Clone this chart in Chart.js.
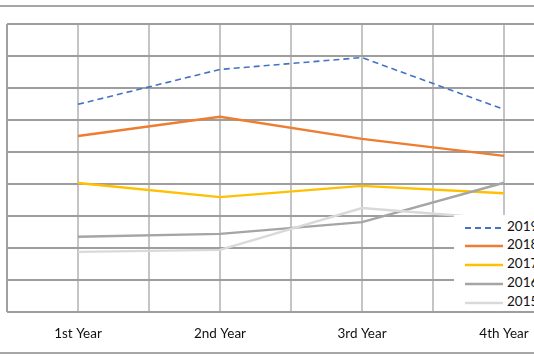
<!DOCTYPE html>
<html>
<head>
<meta charset="utf-8">
<script src="https://cdn.jsdelivr.net/npm/chart.js@4/dist/chart.umd.min.js"></script>
<style>
  html, body { margin: 0; padding: 0; width: 534px; height: 364px; overflow: hidden; background: #fff; }
  #frame { position: absolute; left: -6px; top: 5px; width: 700px; height: 349px; border: 2px solid #a6a6a6; box-sizing: border-box; }
  #wrap { position: absolute; left: -7px; top: 0; width: 600px; height: 364px; }
  #legend { position: absolute; left: 454px; top: 215px; width: 120px; height: 96px; background: #fff; font-family: Lato, "Liberation Sans", sans-serif; font-size: 13.5px; color: #111; }
  .item { position: absolute; left: 0; height: 16px; width: 120px; }
  .item svg { position: absolute; left: 11px; top: 7px; }
  .item span { position: absolute; left: 53px; top: -1px; line-height: 16px; }
</style>
</head>
<body>
<div id="frame"></div>
<div id="wrap"><canvas id="c" width="600" height="364"></canvas></div>
<div id="legend"></div>
<script>
const categories = ['1st Year', '2nd Year', '3rd Year', '4th Year'];
const seriesNames = ['2019', '2018', '2017', '2016', '2015'];
const v2019 = [6.49, 7.58, 7.95, 6.33];
const v2018 = [5.50, 6.10, 5.41, 4.88];
const v2017 = [4.03, 3.59, 3.94, 3.71];
const v2016 = [2.35, 2.44, 2.81, 4.04];
const v2015 = [1.88, 1.94, 3.25, 2.90];
const yMin = 0, yMax = 9;

const seriesValues = [v2019, v2018, v2017, v2016, v2015];
const colors = ['#4472C4', '#ED7D31', '#FFC000', '#A5A5A5', '#D9D9D9'];
const dashes = [[6, 4], [], [], [], []];

const datasets = seriesNames.map((name, i) => ({
  label: name,
  data: seriesValues[i].map((v, k) => ({ x: k + 1, y: v })),
  borderColor: colors[i],
  backgroundColor: colors[i],
  borderWidth: i === 0 ? 1.6 : 2.4,
  borderDash: dashes[i],
  pointRadius: 0,
  tension: 0,
  fill: false,
  order: 4 - i
}));

new Chart(document.getElementById('c'), {
  type: 'line',
  data: { datasets },
  options: {
    responsive: false,
    animation: false,
    devicePixelRatio: 1,
    layout: { padding: { left: 0, top: 24, right: 18, bottom: 0 } },
    plugins: { legend: { display: false }, tooltip: { enabled: false } },
    scales: {
      x: {
        type: 'linear',
        min: 0.5,
        max: 4.5,
        afterFit: (s) => { s.height = 52; },
        afterBuildTicks: (s) => {
          const t = [];
          for (let v = 0.5; v <= 4.5001; v += 0.5) t.push({ value: v });
          s.ticks = t;
        },
        ticks: {
          autoSkip: false,
          maxRotation: 0,
          padding: 14,
          color: '#111',
          font: { family: 'Lato, "Liberation Sans", sans-serif', size: 13.5 },
          callback: (v) => Number.isInteger(v) && v >= 1 && v <= categories.length ? categories[v - 1] : ''
        },
        grid: {
          color: (ctx) => (ctx.tick && ctx.tick.value === 0.5) ? '#a0a0a0' : '#c4c4c4',
          lineWidth: 2,
          drawTicks: false
        },
        border: { display: false }
      },
      y: {
        min: yMin,
        max: yMax,
        afterFit: (s) => { s.width = 0; },
        ticks: { display: false, stepSize: 1 },
        grid: { color: '#9e9e9e', lineWidth: 2, drawTicks: false },
        border: { display: false }
      }
    }
  }
});

const legend = document.getElementById('legend');
const rowTops = [4, 22, 41, 60, 79];
seriesNames.forEach((name, i) => {
  const d = document.createElement('div');
  d.className = 'item';
  d.style.top = rowTops[i] + 'px';
  const dash = dashes[i].length ? `stroke-dasharray="${dashes[i].join(' ')}"` : '';
  d.innerHTML = `<svg width="38" height="4"><line x1="0" y1="2" x2="38" y2="2" stroke="${colors[i]}" stroke-width="${i === 0 ? 2 : 2.5}" ${dash}/></svg><span>${name}</span>`;
  legend.appendChild(d);
});
</script>
</body>
</html>
